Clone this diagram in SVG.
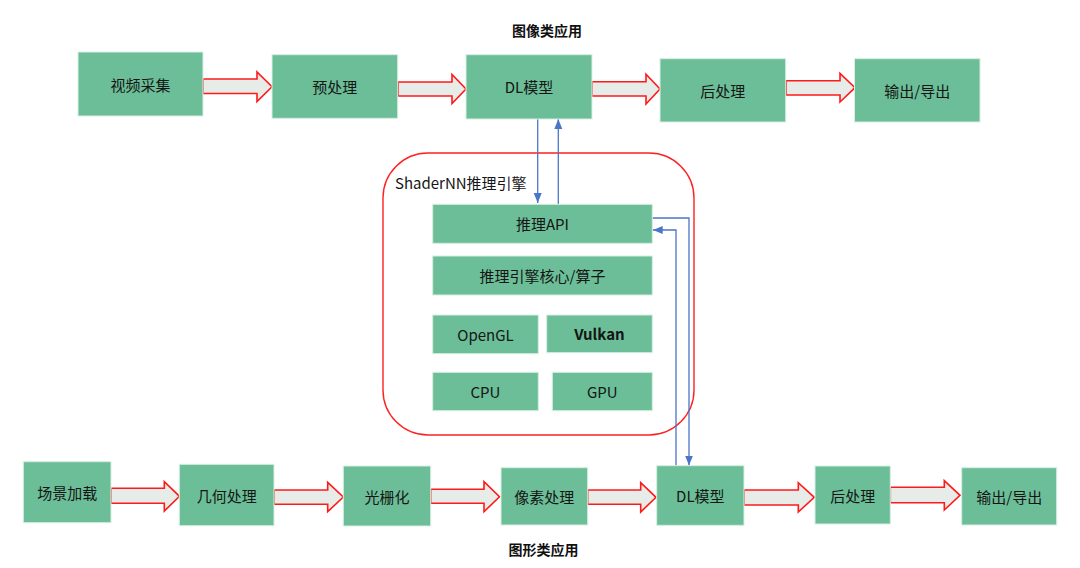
<svg xmlns="http://www.w3.org/2000/svg" width="1080" height="568" viewBox="0 0 1080 568">
<defs>
<style>
.box{fill:#6bbe97;stroke:#d8efe2;stroke-width:1}
.lbl{font-family:"Noto Sans CJK SC","Noto Sans",sans-serif;font-size:15px;fill:#151515;text-anchor:middle;dominant-baseline:central}
.ttl{font-family:"Noto Sans CJK SC","Noto Sans",sans-serif;font-size:14px;font-weight:bold;fill:#111;text-anchor:middle;dominant-baseline:central}
.blk{fill:#e7ece8;stroke:#ff1a1a;stroke-width:1.6;stroke-linejoin:miter}
.blue{fill:none;stroke:#4a76c8;stroke-width:1.3}
</style>
<marker id="ah" markerUnits="userSpaceOnUse" markerWidth="10" markerHeight="10" viewBox="0 0 10 10" refX="10" refY="5" orient="auto">
<path d="M0,1 L10,5 L0,9 Z" fill="#4a76c8"/>
</marker>
</defs>
<rect width="1080" height="568" fill="#ffffff"/>
<text class="ttl" x="547" y="30">图像类应用</text>
<text class="ttl" x="543.5" y="548.5">图形类应用</text>
<rect id="engine" x="383" y="153" width="311" height="282" rx="45" ry="45" fill="none" stroke="#ff2020" stroke-width="1.4"/>
<text x="395" y="182" font-family="'Noto Sans CJK SC','Noto Sans',sans-serif" font-size="15" fill="#151515" dominant-baseline="central">ShaderNN推理引擎</text>
<g id="connectors">
<polygon class="blk" points="203,79 257,79 257,72 272,86.7 257,101.5 257,93.5 203,93.5"/>
<polygon class="blk" points="398,82 452,82 452,74.5 466,89 452,103.5 452,96 398,96"/>
<polygon class="blk" points="592,81.7 646,81.7 646,74.3 660,89 646,104 646,96 592,96"/>
<polygon class="blk" points="786,80.7 840,80.7 840,73.3 855,87.7 840,102 840,95 786,95"/>
<polygon class="blk" points="111,488.3 164.3,488.3 164.3,481.7 179.5,496.3 164.3,511 164.3,503.3 111,503.3"/>
<polygon class="blk" points="274,490 327.7,490 327.7,482.3 343.3,497 327.7,511.7 327.7,504.3 274,504.3"/>
<polygon class="blk" points="430.7,489.3 484,489.3 484,481.7 499.5,496.7 484,511.7 484,503.3 430.7,503.3"/>
<polygon class="blk" points="587.7,490 640.7,490 640.7,482.7 656,497.3 640.7,512 640.7,504.3 587.7,504.3"/>
<polygon class="blk" points="744,490 798.3,490 798.3,482.7 814.3,497.3 798.3,512 798.3,505 744,505"/>
<polygon class="blk" points="890.3,487.3 944.3,487.3 944.3,480.7 960,495.3 944.3,510 944.3,502.7 890.3,502.7"/>
<path class="blue" d="M537.7,119 V203" marker-end="url(#ah)"/>
<path class="blue" d="M558.3,204.3 V119" marker-end="url(#ah)"/>
<path class="blue" d="M652.3,218 H689 V465.5" marker-end="url(#ah)"/>
<path class="blue" d="M676,465.7 V230 H652.7" marker-end="url(#ah)"/>
</g>
<g id="n-video"><rect class="box" x="78" y="52" width="125" height="64"/><text class="lbl" x="140.5" y="84">视频采集</text></g>
<g id="n-pre"><rect class="box" x="272" y="54.7" width="125.7" height="63.6"/><text class="lbl" x="334.8" y="86.5">预处理</text></g>
<g id="n-dl1"><rect class="box" x="466" y="54.7" width="126" height="64.3"/><text class="lbl" x="529" y="86.8">DL模型</text></g>
<g id="n-post1"><rect class="box" x="660" y="58.7" width="125.7" height="63.3"/><text class="lbl" x="722.8" y="90.3">后处理</text></g>
<g id="n-out1"><rect class="box" x="854.5" y="58.7" width="125.5" height="63.3"/><text class="lbl" x="917.2" y="90.3">输出/导出</text></g>
<g id="n-api"><rect class="box" x="432.7" y="204.3" width="219.6" height="39"/><text class="lbl" x="542.5" y="223.8">推理API</text></g>
<g id="n-core"><rect class="box" x="432.7" y="256" width="219.6" height="39"/><text class="lbl" x="542.5" y="275.5">推理引擎核心/算子</text></g>
<g id="n-opengl"><rect class="box" x="432.7" y="315" width="105.6" height="38.7"/><text class="lbl" x="485.5" y="334.3">OpenGL</text></g>
<g id="n-vulkan"><rect class="box" x="546.7" y="315" width="105.6" height="37.7"/><text class="lbl" x="599.5" y="333.8" font-weight="bold">Vulkan</text></g>
<g id="n-cpu"><rect class="box" x="432.7" y="372.3" width="105.6" height="38.4"/><text class="lbl" x="485.5" y="391.5">CPU</text></g>
<g id="n-gpu"><rect class="box" x="552.3" y="372.3" width="100" height="38.4"/><text class="lbl" x="602.3" y="391.5">GPU</text></g>
<g id="n-scene"><rect class="box" x="23.3" y="461.7" width="87.7" height="61"/><text class="lbl" x="67.2" y="492.5">场景加载</text></g>
<g id="n-geo"><rect class="box" x="179.3" y="464.3" width="94.7" height="61.4"/><text class="lbl" x="226.7" y="495">几何处理</text></g>
<g id="n-raster"><rect class="box" x="343.3" y="466" width="87.4" height="60"/><text class="lbl" x="387" y="496">光栅化</text></g>
<g id="n-pixel"><rect class="box" x="501" y="467.7" width="86.7" height="57.3"/><text class="lbl" x="544.3" y="496.3">像素处理</text></g>
<g id="n-dl2"><rect class="box" x="656.7" y="465.7" width="87.3" height="59.6"/><text class="lbl" x="700.3" y="495.5">DL模型</text></g>
<g id="n-post2"><rect class="box" x="815" y="466" width="75.3" height="58"/><text class="lbl" x="852.7" y="495">后处理</text></g>
<g id="n-out2"><rect class="box" x="961.7" y="467.7" width="95" height="57.3"/><text class="lbl" x="1009.2" y="496.3">输出/导出</text></g>
</svg>
